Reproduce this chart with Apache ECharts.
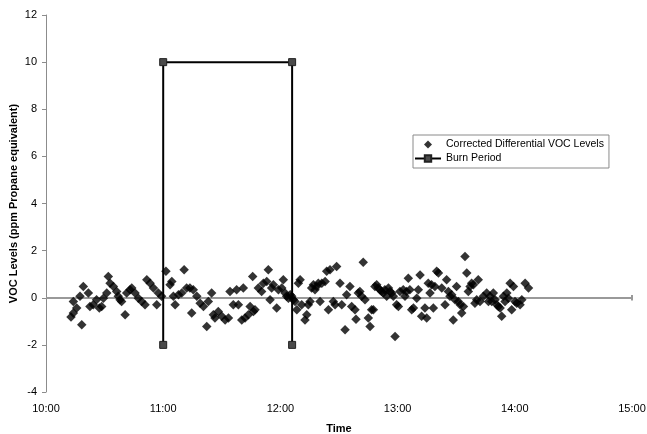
<!DOCTYPE html>
<html>
<head>
<meta charset="utf-8">
<script src="https://cdn.jsdelivr.net/npm/echarts@6/dist/echarts.min.js"></script>
<style>
  html, body { margin: 0; padding: 0; background: #ffffff; }
  #chart { width: 647px; height: 434px; }
</style>
</head>
<body>
<div id="chart"></div>
<script>
// Readings: [minutes after 10:00, corrected differential VOC level (ppm propane equivalent)]
const vocReadings = [
  [12.8,-0.82],[14.0,-0.65],[14.0,-0.16],[15.7,-0.44],[17.4,0.06],[18.3,-1.15],[19.1,0.48],[21.7,0.20],
  [22.5,-0.37],[24.2,-0.30],[25.9,-0.09],[27.3,-0.44],[28.5,-0.37],[29.4,-0.02],[31.1,0.20],[31.9,0.90],
  [32.8,0.62],[34.5,0.48],[36.2,0.27],[37.0,0.06],[37.9,-0.09],[38.7,-0.16],[40.5,-0.72],[41.3,0.20],
  [43.0,0.34],[43.9,0.41],[45.6,0.20],[47.3,-0.02],[49.0,-0.16],[50.7,-0.30],[51.6,0.76],[53.3,0.62],
  [55.0,0.41],[56.7,-0.30],[57.5,0.20],[59.2,0.06],[61.4,1.12],[63.5,0.55],[64.4,0.69],[65.2,0.06],
  [66.1,-0.30],[67.8,0.13],[69.5,0.20],[70.7,1.19],[72.0,0.41],[73.7,0.41],[74.6,-0.65],[75.4,0.34],
  [77.2,0.06],[78.9,-0.23],[80.6,-0.37],[82.3,-1.22],[83.1,-0.16],
  [84.8,0.20],[85.7,-0.72],[86.5,-0.86],[88.2,-0.58],[90.0,-0.79],[91.7,-0.94],[93.4,-0.86],[94.2,0.27],
  [95.9,-0.30],[97.6,0.34],[98.5,-0.30],[100.2,-0.94],[101.0,0.41],[101.9,-0.86],[103.6,-0.72],[104.5,-0.37],
  [105.8,0.90],[106.2,-0.58],[107.0,-0.51],[108.7,0.41],[110.4,0.27],[111.3,0.62],[113.0,0.69],[113.8,1.19],
  [114.7,-0.09],[115.5,0.41],[116.4,0.55],[118.1,-0.44],[119.0,0.34],[120.7,0.41],[121.5,0.76],[122.4,0.20],
  [123.2,0.06],[124.1,-0.02],[125.0,0.13],[125.8,0.06],[126.6,-0.09],[127.5,-0.16],[128.4,-0.51],[129.2,0.62],
  [130.1,0.76],[130.9,-0.30],[132.6,-0.94],[133.5,-0.72],[134.3,-0.30],[135.2,-0.16],[136.0,0.41],[136.9,0.55],
  [137.7,0.34],[138.6,0.48],[139.4,0.62],[140.3,-0.16],[141.2,0.62],[142.9,0.69],[143.7,1.12],[144.6,-0.51],
  [145.4,1.19],[147.1,-0.16],[148.0,-0.30],[148.8,1.33],[150.5,0.62],[151.4,-0.30],[153.1,-1.36],[153.9,0.13],
  [155.6,0.48],[156.5,-0.37],[158.2,-0.51],[158.7,-0.91],[159.9,0.20],[160.7,0.27],[161.6,0.06],[162.4,1.51],
  [163.3,-0.09],[165.0,-0.86],[165.9,-1.22],[166.7,-0.51],[167.6,-0.51],[168.4,0.48],[169.3,0.55],[170.1,0.41],
  [171.0,0.34],[171.8,0.27],[172.7,0.20],[173.5,0.34],[174.4,0.06],[175.3,0.41],[176.1,0.27],[177.0,0.20],
  [177.8,0.06],[178.7,-1.64],[179.5,-0.30],[180.4,-0.37],[181.2,0.27],[182.9,0.34],[183.8,0.06],[184.6,0.27],
  [185.5,0.83],[186.3,0.34],[187.2,-0.51],[188.1,-0.44],[189.8,-0.02],[190.6,0.34],[191.5,0.97],[192.3,-0.79],
  [194.0,-0.44],[194.9,-0.86],[195.7,0.62],[196.6,0.20],[197.4,0.55],[198.3,-0.44],[199.1,0.48],[200.0,1.12],
  [200.9,1.05],[202.6,0.41],[204.3,-0.30],[205.1,0.76],[206.0,0.27],[206.8,0.06],[207.7,0.13],[208.5,-0.94],
  [209.4,-0.09],[210.2,0.48],[211.1,-0.16],[212.0,-0.30],[212.8,-0.65],[213.7,-0.37],[214.5,1.75],[215.4,1.05],
  [216.2,0.27],[217.1,0.48],[217.9,0.62],[218.8,0.55],[219.6,-0.23],[220.5,-0.09],[221.3,0.76],[222.2,-0.16],
  [223.9,0.06],[225.6,0.20],[226.5,-0.16],
  [227.3,0.06],[228.2,-0.16],[229.0,0.20],[229.9,-0.09],[230.8,-0.30],[231.6,-0.37],[232.5,-0.44],[233.3,-0.79],
  [234.2,0.06],[235.0,-0.16],[235.9,0.20],[236.7,-0.02],[237.6,0.62],[238.4,-0.51],[239.3,0.48],[240.1,-0.16],
  [241.0,-0.23],[242.7,-0.30],[243.6,-0.09],[245.3,0.62],[247.0,0.41]
];

// Burn period outline: 11:00 to 12:06
const burnMinutes = [60, 60, 126, 126];
const burnLevels = [-2, 10, 10, -2];

// Axis settings
const startHour = 10;
const xTickMinutes = 60;
const yTicks = [-4, -2, 0, 2, 4, 6, 8, 10, 12];

const burnData = burnMinutes.map((m, i) => [m, burnLevels[i]]);
const font = 'Liberation Sans, Arial, sans-serif';

// Small diamond centred in a wide legend slot (zero-length end segments set the box width)
const legendDiamond = 'path://M0,4L0,4M13,0L17,4L13,8L9,4ZM26,4L26,4';

const chart = echarts.init(document.getElementById('chart'), null, { renderer: 'canvas' });
chart.setOption({
  animation: false,
  backgroundColor: '#ffffff',
  textStyle: { fontFamily: font },
  grid: { left: 46, right: 15, top: 15, bottom: 42, containLabel: false, outerBoundsMode: 'none' },
  legend: {
    orient: 'vertical',
    left: 413,
    top: 135,
    padding: [4, 5, 4, 1],
    itemGap: 3,
    itemWidth: 26,
    itemHeight: 8,
    borderColor: '#8a8a8a',
    borderWidth: 1,
    textStyle: { fontFamily: font, fontSize: 10.5, color: '#000' },
    data: [
      { name: 'Corrected Differential VOC Levels', icon: legendDiamond },
      { name: 'Burn Period' }
    ]
  },
  xAxis: {
    type: 'value',
    min: 0,
    max: 300,
    interval: xTickMinutes,
    name: 'Time',
    nameLocation: 'middle',
    nameGap: 31,
    nameMoveOverlap: false,
    nameTextStyle: { fontFamily: font, fontSize: 11, fontWeight: 'bold', color: '#000' },
    axisLine: { show: false, onZero: false },
    axisTick: { show: false },
    splitLine: { show: false },
    axisLabel: {
      margin: 11,
      fontSize: 11,
      color: '#000',
      fontFamily: font,
      formatter: v => (startHour + v / 60) + ':00'
    }
  },
  yAxis: {
    type: 'value',
    min: yTicks[0],
    max: yTicks[yTicks.length - 1],
    interval: 2,
    name: 'VOC Levels (ppm Propane equivalent)',
    nameLocation: 'middle',
    nameGap: 27,
    nameMoveOverlap: false,
    nameTextStyle: { fontFamily: font, fontSize: 11, fontWeight: 'bold', color: '#000' },
    axisLine: { show: true, lineStyle: { color: '#8c8c8c', width: 1 } },
    axisTick: { show: true, inside: false, length: 4, lineStyle: { color: '#8c8c8c' } },
    splitLine: { show: false },
    axisLabel: { margin: 9, fontSize: 11, color: '#000', fontFamily: font }
  },
  series: [
    {
      name: 'Corrected Differential VOC Levels',
      type: 'scatter',
      symbol: 'diamond',
      symbolSize: 9.5,
      itemStyle: { color: '#000' },
      data: vocReadings,
      z: 3,
      markLine: {
        silent: true,
        symbol: 'none',
        label: { show: false },
        lineStyle: { color: '#999', width: 2, type: 'solid' },
        data: [
          [{ coord: [0, 0] }, { coord: [300, 0] }],
          [{ coord: [300, -0.12] }, { coord: [300, 0.12] }]
        ],
        z: 1
      }
    },
    {
      name: 'Burn Period',
      type: 'line',
      symbol: 'rect',
      symbolSize: 7,
      showSymbol: true,
      itemStyle: { color: '#4a4a4a', borderColor: '#222', borderWidth: 1 },
      lineStyle: { color: '#000', width: 2 },
      data: burnData,
      z: 4
    }
  ]
});
</script>
</body>
</html>
